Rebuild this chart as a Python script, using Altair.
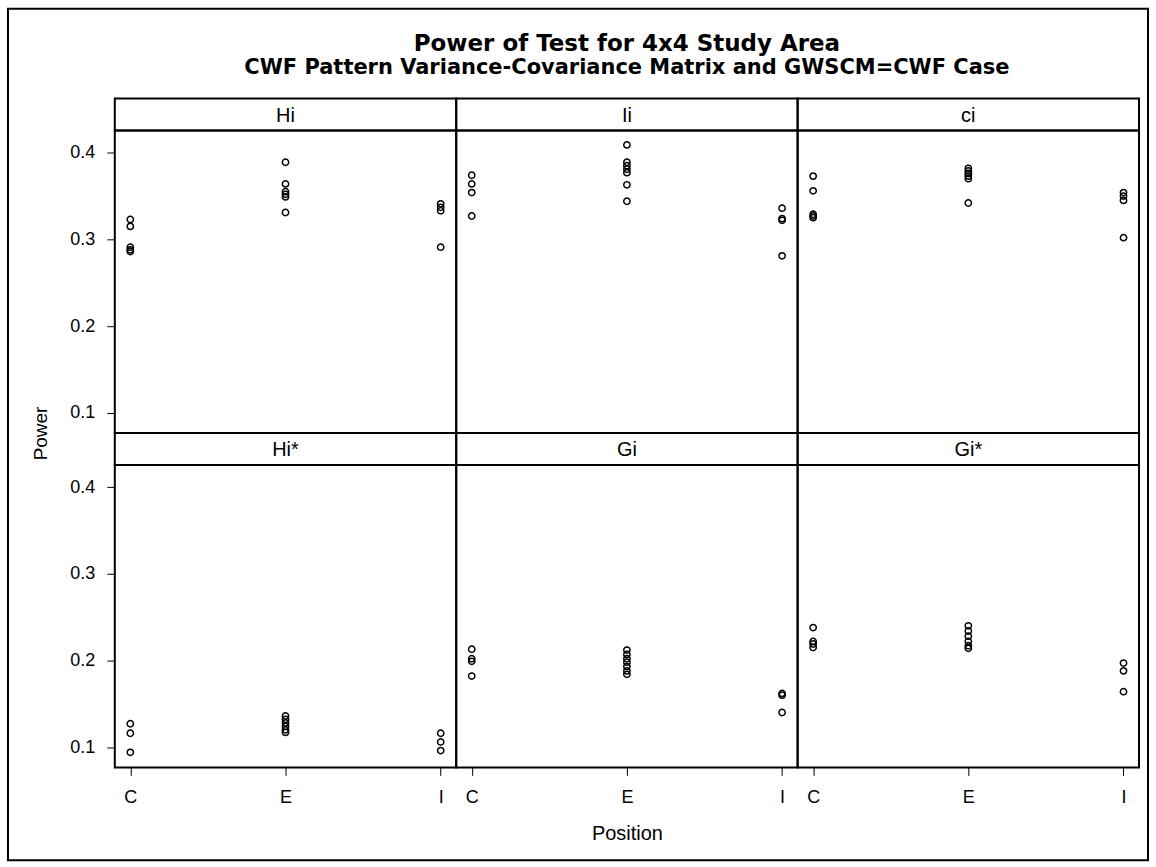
import altair as alt
import pandas as pd

FONT = "Liberation Sans"
TFONT = "DejaVu Sans"

panel_names = ["Hi", "Ii", "ci", "Hi*", "Gi", "Gi*"]
positions = ["C", "E", "I"]

# Power values, per panel and position
hi_C = [0.323, 0.315, 0.291, 0.288, 0.286]
hi_E = [0.389, 0.364, 0.355, 0.352, 0.349, 0.331]
hi_I = [0.341, 0.337, 0.333, 0.291]

ii_C = [0.374, 0.364, 0.354, 0.327]
ii_E = [0.409, 0.389, 0.385, 0.381, 0.377, 0.363, 0.344]
ii_I = [0.336, 0.324, 0.322, 0.281]

ci_C = [0.373, 0.356, 0.329, 0.327, 0.325]
ci_E = [0.382, 0.379, 0.376, 0.373, 0.370, 0.342]
ci_I = [0.354, 0.350, 0.345, 0.302]

his_C = [0.127, 0.116, 0.094]
his_E = [0.136, 0.132, 0.128, 0.124, 0.120, 0.117]
his_I = [0.116, 0.106, 0.096]

gi_C = [0.213, 0.202, 0.199, 0.182]
gi_E = [0.212, 0.207, 0.202, 0.198, 0.193, 0.188, 0.184]
gi_I = [0.162, 0.160, 0.140]

gis_C = [0.238, 0.222, 0.219, 0.215]
gis_E = [0.240, 0.234, 0.228, 0.222, 0.217, 0.214]
gis_I = [0.197, 0.188, 0.164]

series = {
    "Hi": [hi_C, hi_E, hi_I],
    "Ii": [ii_C, ii_E, ii_I],
    "ci": [ci_C, ci_E, ci_I],
    "Hi*": [his_C, his_E, his_I],
    "Gi": [gi_C, gi_E, gi_I],
    "Gi*": [gis_C, gis_E, gis_I],
}

y_ticks = [0.1, 0.2, 0.3, 0.4]
y_domain = [0.0766, 0.4256]

rows = []
for name in panel_names:
    for pos, vals in zip(positions, series[name]):
        for v in vals:
            rows.append({"panel": name, "Position": pos, "Power": v})
df = pd.DataFrame(rows)

W, HH, PH = 342, 32, 303


def header(label, frame=False):
    src = pd.DataFrame({"label": [label]})
    txt = alt.Chart(src).mark_text(
        font=FONT, fontSize=20, color="black", baseline="middle", align="center"
    ).encode(x=alt.value(W / 2), y=alt.value(HH / 2 + 1), text="label:N")
    if frame:
        box = alt.Chart(src).mark_rect(
            fillOpacity=0, stroke="black", strokeWidth=2
        ).encode(x=alt.value(-107), x2=alt.value(1035), y=alt.value(-90), y2=alt.value(763))
        return alt.layer(box, txt).properties(width=W, height=HH)
    return txt.properties(width=W, height=HH)


def plot(name, row, col):
    d = df[df["panel"] == name]
    if col == 0:
        yax = alt.Axis(
            values=y_ticks, format=".1f", grid=False, domain=False,
            tickSize=8, tickColor="black", labelPadding=12,
            labelFont=FONT, labelFontSize=18, labelColor="black",
            title="Power" if row == 0 else None,
            titleFont=FONT, titleFontSize=19, titleFontWeight="normal", titleColor="black",
            titleX=-74, titleY=PH, titleAlign="center", titleBaseline="middle", titleAngle=270,
        )
    else:
        yax = None
    if row == 1:
        xax = alt.Axis(
            labelAngle=0, grid=False, domain=False, tickSize=8, tickColor="black",
            labelPadding=13, labelFont=FONT, labelFontSize=18, labelColor="black",
            title="Position" if col == 1 else None,
            titleFont=FONT, titleFontSize=20, titleFontWeight="normal", titleColor="black",
            titlePadding=17,
        )
    else:
        xax = None
    return alt.Chart(d).mark_point(
        shape="circle", filled=False, size=40, strokeWidth=1.5, color="black", opacity=1
    ).encode(
        x=alt.X("Position:N", scale=alt.Scale(type="point", domain=positions, padding=0.1), axis=xax),
        y=alt.Y("Power:Q", scale=alt.Scale(domain=y_domain, nice=False, zero=False), axis=yax),
    ).properties(width=W, height=PH)


cells = []
cells += [header(n, frame=(i == 0)) for i, n in enumerate(panel_names[:3])]
cells += [plot(n, 0, i) for i, n in enumerate(panel_names[:3])]
cells += [header(n) for n in panel_names[3:]]
cells += [plot(n, 1, i) for i, n in enumerate(panel_names[3:])]

chart = alt.concat(*cells, columns=3, spacing=0, bounds="flush").properties(
    title=alt.TitleParams(
        text="Power of Test for 4x4 Study Area",
        subtitle="CWF Pattern Variance-Covariance Matrix and GWSCM=CWF Case",
        font=TFONT, fontSize=23, fontWeight="bold", color="black",
        subtitleFont=TFONT, subtitleFontSize=21, subtitleFontWeight="bold", subtitleColor="black",
        anchor="middle", dx=49, offset=-71, subtitlePadding=1,
    ),
    padding={"left": 6, "top": 6, "right": 6, "bottom": 6},
    background="white",
).configure_view(stroke="black", strokeWidth=2)

chart.save("out.html", embed_options={"renderer": "svg", "actions": False})
